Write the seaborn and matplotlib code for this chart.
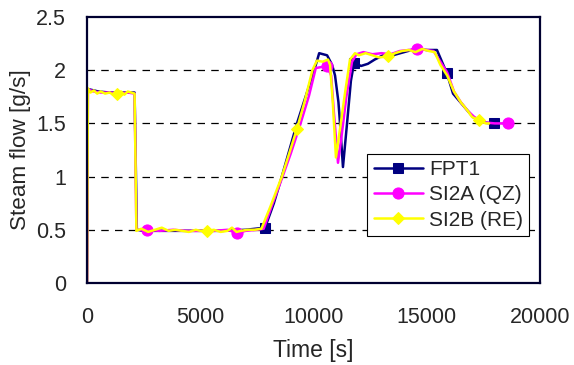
import pandas as pd
import matplotlib
matplotlib.use("Agg")
import matplotlib.pyplot as plt
import seaborn as sns

# FPT1 (measured)
fpt1_t = [0, 30, 100, 500, 1000, 1500, 2000, 2100, 2200, 2500, 3000, 3900, 5000, 6000, 7000,
          7860, 8250, 8600, 9270, 9800, 10100, 10250, 10600, 10820, 10950, 11100, 11170, 11300,
          11480, 11650, 11790, 12100, 12400, 12700, 13070, 13500, 14000, 14500, 15000, 15450,
          15890, 16160, 16600, 17040, 17400, 17970]
fpt1_y = [0, 1.80, 1.82, 1.80, 1.79, 1.79, 1.79, 1.79, 0.50, 0.49, 0.49, 0.49, 0.49, 0.49, 0.50,
          0.52, 0.75, 1.00, 1.50, 1.85, 2.05, 2.16, 2.14, 2.05, 1.95, 1.70, 1.50, 1.09,
          1.50, 1.90, 2.07, 2.04, 2.06, 2.10, 2.14, 2.14, 2.17, 2.20, 2.19, 2.19,
          1.97, 1.78, 1.67, 1.56, 1.51, 1.50]
fpt1_marks = [15, 30, 40, 45]

# SI2A (QZ)
si2a_t = [0, 40, 300, 600, 1000, 1400, 1800, 2100, 2180, 2650, 3200, 3800, 4400, 5000, 5600,
          6200, 6620, 7000, 7500, 7800, 8200, 8600, 9000, 9400, 9800, 10100, 10600, 10780,
          10900, 11080, 11250, 11450, 11700, 11900, 12200, 12600, 13000, 13400, 13800, 14200,
          14570, 15000, 15300, 15600, 15900, 16200, 16500, 16800, 17100, 17500, 18000, 18590]
si2a_y = [0, 1.82, 1.80, 1.79, 1.79, 1.78, 1.79, 1.78, 0.50, 0.50, 0.49, 0.50, 0.49, 0.49, 0.49,
          0.50, 0.47, 0.49, 0.50, 0.51, 0.75, 0.98, 1.22, 1.48, 1.76, 2.02, 2.04, 1.95,
          1.60, 1.13, 1.40, 1.75, 2.08, 2.15, 2.17, 2.15, 2.16, 2.15, 2.18, 2.19,
          2.20, 2.19, 2.18, 2.08, 1.98, 1.80, 1.70, 1.62, 1.56, 1.51, 1.50, 1.50]
si2a_marks = [9, 16, 26, 40, 51]

# SI2B (RE)
si2b_t = [0, 40, 150, 300, 450, 600, 800, 1000, 1150, 1320, 1500, 1650, 1800, 1950, 2100,
          2180, 2400, 2700, 3000, 3300, 3600, 3900, 4200, 4500, 4800, 5000, 5300, 5600, 5900,
          6200, 6400, 6600, 6800, 7100, 7400, 7700, 8100, 8600, 8900, 9270, 9600, 9950, 10150,
          10400, 10640, 10730, 10850, 10990, 11170, 11400, 11610, 11830, 12000, 12300, 12600,
          12900, 13290, 13600, 13900, 14200, 14500, 14800, 15100, 15350, 15600, 15900, 16200,
          16500, 16800, 17000, 17310, 17600, 17750]
si2b_y = [0, 1.83, 1.79, 1.81, 1.78, 1.80, 1.78, 1.79, 1.77, 1.78, 1.80, 1.77, 1.80, 1.79, 1.78,
          0.49, 0.51, 0.48, 0.50, 0.52, 0.49, 0.50, 0.49, 0.48, 0.50, 0.49, 0.49, 0.50, 0.48,
          0.49, 0.52, 0.48, 0.49, 0.50, 0.50, 0.51, 0.72, 1.00, 1.20, 1.45, 1.70, 2.00, 2.09,
          2.08, 2.10, 2.05, 1.70, 1.18, 1.45, 1.80, 2.10, 2.16, 2.14, 2.16, 2.14, 2.12,
          2.13, 2.16, 2.18, 2.19, 2.17, 2.20, 2.18, 2.17, 2.05, 1.95, 1.80,
          1.70, 1.62, 1.56, 1.53, 1.50, 1.50]
si2b_marks = [9, 26, 39, 56, 70]

sns.set_style("white")
plt.rcParams["font.family"] = ["Liberation Sans", "DejaVu Sans"]

fig = plt.figure(figsize=(5.74, 3.65), dpi=100)
ax = fig.add_axes([0.1516, 0.2247, 0.7892, 0.7287])

series = [
    ("FPT1", fpt1_t, fpt1_y, fpt1_marks, "#000080", "s", 7),
    ("SI2A (QZ)", si2a_t, si2a_y, si2a_marks, "#FF00FF", "o", 8),
    ("SI2B (RE)", si2b_t, si2b_y, si2b_marks, "#FFFF00", "D", 6),
]
for name, t, y, marks, col, mk, ms in series:
    df = pd.DataFrame({"t": t, "y": y})
    sns.lineplot(data=df, x="t", y="y", ax=ax, color=col, lw=1.8, marker=mk, markersize=ms,
                 markeredgecolor=col, markevery=marks, estimator=None, sort=False, label=name)

ax.set_xlim(0, 20000)
ax.set_ylim(0, 2.5)
ax.set_xticks([0, 5000, 10000, 15000, 20000])
ax.set_yticks([0, 0.5, 1, 1.5, 2, 2.5])
ax.set_yticklabels(["0", "0.5", "1", "1.5", "2", "2.5"])
for g in [0.5, 1, 1.5, 2]:
    ax.axhline(g, color="black", lw=0.9, ls=(0, (6, 5)), zorder=0)
ax.tick_params(direction="in", length=4, color="#7777bb", labelsize=15.5)
ax.tick_params(axis="x", pad=17)
ax.tick_params(axis="y", pad=15)
for s in ax.spines.values():
    s.set_color("#000030")
    s.set_linewidth(1.6)
ax.set_xlabel("Time [s]", fontsize=16.5, labelpad=8)
ax.set_ylabel("Steam flow [g/s]", fontsize=16.2, labelpad=4)

leg = ax.legend(loc="lower right", bbox_to_anchor=(0.976, 0.177), borderaxespad=0,
                fancybox=False, framealpha=1, edgecolor="black", handlelength=2.35,
                handletextpad=0.3, labelspacing=0.3, borderpad=0.3, fontsize=15)
leg.get_frame().set_linewidth(0.8)

plt.savefig("out.png", dpi=100)
plt.close()
